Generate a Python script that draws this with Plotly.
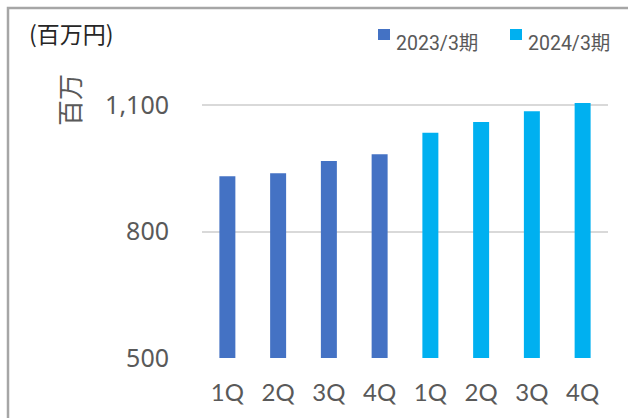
import plotly.graph_objects as go

# Quarterly figures (million yen)
quarters = ["1Q", "2Q", "3Q", "4Q", "1Q", "2Q", "3Q", "4Q"]
fy2023_label = "2023/3期"
fy2024_label = "2024/3期"
fy2023_values = [931, 938, 967, 983]
fy2024_values = [1034, 1060, 1085, 1105]
y_ticks = [500, 800, 1100]
y_tick_text = ["500", "800", "1,100"]

COLOR_2023 = "#4472C4"
COLOR_2024 = "#00B0F0"
TEXT_GRAY = "#595959"

W, H = 628, 418
L, R, T, B = 202, 20, 93, 60
plot_w = W - L - R
plot_h = H - T - B


def px_x(px):
    return (px - L) / plot_w


def px_y(py):
    return (H - B - py) / plot_h


pos_2023 = list(range(len(fy2023_values)))
pos_2024 = list(range(len(fy2023_values), len(fy2023_values) + len(fy2024_values)))

fig = go.Figure()
fig.add_trace(go.Bar(
    x=pos_2023, y=fy2023_values, name=fy2023_label,
    marker=dict(color=COLOR_2023, line=dict(width=0)), width=0.315,
    showlegend=False,
))
fig.add_trace(go.Bar(
    x=pos_2024, y=fy2024_values, name=fy2024_label,
    marker=dict(color=COLOR_2024, line=dict(width=0)), width=0.315,
    showlegend=False,
))

# Compact legend: small square key followed closely by the period label
legend_items = [(fy2023_label, COLOR_2023, 378), (fy2024_label, COLOR_2024, 510)]
legend_shapes = []
legend_notes = []
for label, color, x0 in legend_items:
    legend_shapes.append(dict(
        type="rect", xref="paper", yref="paper",
        x0=px_x(x0), x1=px_x(x0 + 12), y0=px_y(40), y1=px_y(29),
        fillcolor=color, line=dict(width=0),
    ))
    legend_notes.append(dict(
        text=label, x=px_x(x0 + 16), y=px_y(43), xref="paper", yref="paper",
        xanchor="left", yanchor="middle", showarrow=False,
        font=dict(size=19.5, color=TEXT_GRAY, family="Roboto, Noto Sans CJK JP"),
    ))

fig.update_layout(
    width=W, height=H,
    margin=dict(l=L, r=R, t=T, b=B, autoexpand=False),
    paper_bgcolor="white", plot_bgcolor="white",
    barmode="overlay",
    showlegend=False,
    font=dict(family="Noto Sans, Noto Sans CJK JP", color=TEXT_GRAY),
    xaxis=dict(
        range=[-0.5, 7.5], tickmode="array", tickvals=pos_2023 + pos_2024,
        ticktext=quarters, showgrid=False, zeroline=False,
        showline=False, ticks="",
        tickfont=dict(size=24, family="Lato, Noto Sans", color=TEXT_GRAY),
        ticklabelstandoff=18,
    ),
    yaxis=dict(
        range=[500, 1128.5], tickmode="array", tickvals=y_ticks,
        ticktext=y_tick_text, showgrid=True, gridcolor="#D9D9D9", gridwidth=2,
        zeroline=False, showline=False, ticks="",
        tickfont=dict(size=25, family="Noto Sans", color=TEXT_GRAY),
        ticklabelstandoff=32,
    ),
    annotations=[
        dict(text="百万", x=px_x(68), y=px_y(100), xref="paper", yref="paper",
             xanchor="center", yanchor="middle",
             showarrow=False, textangle=-90,
             font=dict(size=26, color=TEXT_GRAY, family="Noto Sans CJK JP")),
        dict(text="(百万円)", x=px_x(27), y=px_y(33), xref="paper", yref="paper",
             xanchor="left", yanchor="middle", showarrow=False,
             font=dict(size=23, color="#262626", family="Noto Sans CJK JP")),
    ] + legend_notes,
    shapes=[
        dict(type="path", xref="paper", yref="paper",
             path=f"M {px_x(8)} {px_y(430)} L {px_x(8)} {px_y(8)} L {px_x(640)} {px_y(8)}",
             line=dict(color="#A6A6A6", width=2.5)),
    ] + legend_shapes,
)

fig.write_html("out.html")
